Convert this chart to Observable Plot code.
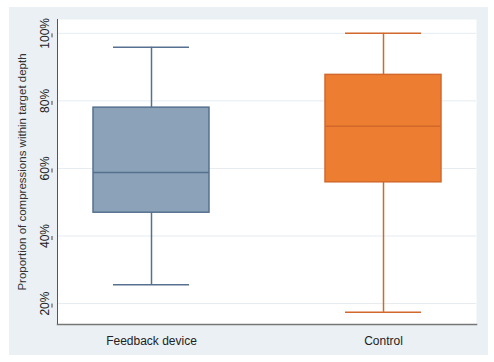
<!DOCTYPE html>
<html>
<head>
<meta charset="utf-8">
<script src="https://cdn.jsdelivr.net/npm/d3@7"></script>
<script src="https://cdn.jsdelivr.net/npm/@observablehq/plot@0.6"></script>
<style>
  html, body { margin: 0; padding: 0; background: #ffffff; }
  #chart { position: absolute; left: 9px; top: 7px; }
  svg { display: block; }
</style>
</head>
<body>
<div id="chart"></div>
<script>
// Data (proportions in %)
const groups = ["Feedback device", "Control"];
const whiskerLow = [25.6, 17.4];
const q1 = [46.9, 55.9];
const median = [58.8, 72.5];
const q3 = [78.0, 87.7];
const whiskerHigh = [95.9, 100.0];
const yTicks = [20, 40, 60, 80, 100];
const fills = ["#8ca2b9", "#ed7d31"];
const strokes = ["#56718f", "#d2682b"];

const rows = groups.map((g, i) => ({
  group: g, lo: whiskerLow[i], q1: q1[i], med: median[i], q3: q3[i], hi: whiskerHigh[i]
}));
const sc = d => strokes[groups.indexOf(d.group)];

const chart = Plot.plot({
  width: 479,
  height: 348,
  marginLeft: 48,
  marginRight: 12,
  marginTop: 12,
  marginBottom: 31,
  style: {background: "#eaf0f3", fontFamily: "Liberation Sans, Arial, sans-serif", fontSize: "12px", color: "#222"},
  x: {domain: groups, paddingInner: 0.5, paddingOuter: 0.15, label: null, tickSize: 0},
  y: {domain: [13.8, 104.1], label: null},
  color: {domain: groups, range: fills},
  marks: [
    Plot.frame({fill: "white", stroke: null}),
    Plot.gridY(yTicks, {stroke: "#e6ecf1", strokeOpacity: 1}),
    Plot.axisY(yTicks, {
      tickFormat: d => d + "%", tickSize: 4, tickPadding: 3, stroke: "#444",
      textAnchor: "middle", rotate: -90, dx: -5, fontSize: 12, fill: "#222", label: null
    }),
    Plot.text(["Proportion of compressions within target depth"], {
      frameAnchor: "left", textAnchor: "middle", rotate: -90, dx: -35, fontSize: 11.5, fill: "#333"
    }),
    Plot.axisX({tickSize: 0, tickPadding: 12, fontSize: 12, fill: "#222", label: null}),
    Plot.ruleX(rows, {x: "group", y1: "lo", y2: "q1", stroke: sc, strokeWidth: 1.5}),
    Plot.ruleX(rows, {x: "group", y1: "q3", y2: "hi", stroke: sc, strokeWidth: 1.5}),
    Plot.tickY(rows, {x: "group", y: "lo", stroke: sc, strokeWidth: 1.5, inset: 20}),
    Plot.tickY(rows, {x: "group", y: "hi", stroke: sc, strokeWidth: 1.5, inset: 20}),
    Plot.barY(rows, {x: "group", y1: "q1", y2: "q3", fill: "group", stroke: sc, strokeWidth: 1.5}),
    Plot.tickY(rows, {x: "group", y: "med", stroke: sc, strokeWidth: 1.5}),
    Plot.frame({anchor: "left", stroke: "#555", strokeWidth: 1}),
    Plot.frame({anchor: "bottom", stroke: "#777", strokeWidth: 1.5})
  ]
});
document.getElementById("chart").appendChild(chart);
</script>
</body>
</html>
